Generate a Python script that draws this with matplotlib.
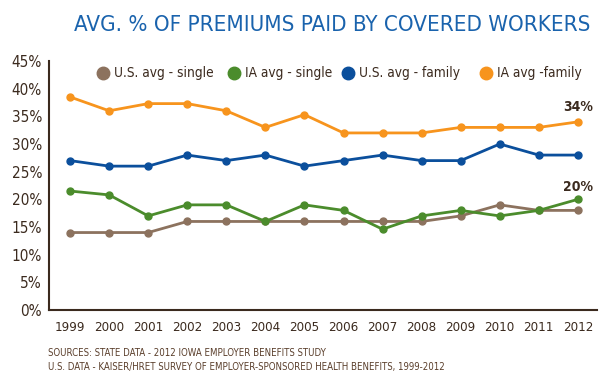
import matplotlib
matplotlib.use("Agg")
import matplotlib.pyplot as plt
from matplotlib.lines import Line2D

years = [1999, 2000, 2001, 2002, 2003, 2004, 2005, 2006, 2007, 2008, 2009, 2010, 2011, 2012]
us_single = [14, 14, 14, 16, 16, 16, 16, 16, 16, 16, 17, 19, 18, 18]
ia_single = [21.5, 20.8, 17, 19, 19, 16, 19, 18, 14.6, 17, 18, 17, 18, 20]
us_family = [27, 26, 26, 28, 27, 28, 26, 27, 28, 27, 27, 30, 28, 28]
ia_family = [38.5, 36, 37.3, 37.3, 36, 33, 35.3, 32, 32, 32, 33, 33, 33, 34]
series_labels = ["U.S. avg - single", "IA avg - single", "U.S. avg - family", "IA avg -family"]
yticks = [0, 5, 10, 15, 20, 25, 30, 35, 40, 45]

colors = ["#8c725e", "#4b8c2c", "#0b4f9c", "#f7941d"]
dark = "#3b2a1e"
fam = "DejaVu Sans"
st = "condensed"
W, H = 615, 386

fig = plt.figure(figsize=(6.15, 3.86), dpi=100)
ax = fig.add_axes([49/W, 1-310/H, (597-49)/W, (310-61)/H])

for vals, c, lab in zip([us_single, ia_single, us_family, ia_family], colors, series_labels):
    ax.plot(years, vals, color=c, lw=2, marker="o", ms=5, label=lab)

ax.set_xlim(1998.46, 2012.49)
ax.set_ylim(0, 45)
ax.set_yticks(yticks)
ax.set_yticklabels([f"{v}%" for v in yticks], fontsize=11, color=dark, family=fam, stretch=st)
ax.set_xticks(years)
ax.set_xticklabels([str(y) for y in years], fontsize=9.5, color=dark, family=fam, stretch=st)
ax.tick_params(length=0, pad=8)
ax.tick_params(axis="y", pad=5)
for s in ["top", "right"]:
    ax.spines[s].set_visible(False)
for s in ["left", "bottom"]:
    ax.spines[s].set_color(dark)
    ax.spines[s].set_linewidth(1.5)

ax.annotate(f"{ia_family[-1]:.0f}%", (years[-1], ia_family[-1]), xytext=(0, 10.5), textcoords="offset points",
            ha="center", va="center", fontsize=10, fontweight="bold", color=dark, family=fam, stretch=st)
ax.annotate(f"{ia_single[-1]:.0f}%", (years[-1], ia_single[-1]), xytext=(0, 9), textcoords="offset points",
            ha="center", va="center", fontsize=10, fontweight="bold", color=dark, family=fam, stretch=st)

# legend drawn manually in figure coordinates
leg_x = [103, 234, 348, 486]
leg_y = 1 - 73/H
for x, c, lab in zip(leg_x, colors, series_labels):
    fig.add_artist(Line2D([x/W], [leg_y], ls="none", marker="o", ms=9, color=c, transform=fig.transFigure))
    fig.text((x + 11)/W, leg_y, lab, fontsize=9.8, color=dark, family=fam, stretch=st, va="center", ha="left")

fig.text(332/W, 1-25/H, "AVG. % OF PREMIUMS PAID BY COVERED WORKERS", ha="center", va="center",
         fontsize=16, color="#1a63ad", family=fam, stretch=st)
fig.text(48/W, 1-353/H, "SOURCES: STATE DATA - 2012 IOWA EMPLOYER BENEFITS STUDY", fontsize=6.9,
         color="#5a3e2b", family=fam, stretch=st, va="center")
fig.text(48/W, 1-367/H, "U.S. DATA - KAISER/HRET SURVEY OF EMPLOYER-SPONSORED HEALTH BENEFITS, 1999-2012",
         fontsize=6.9, color="#5a3e2b", family=fam, stretch=st, va="center")

fig.savefig("out.png", dpi=100)
